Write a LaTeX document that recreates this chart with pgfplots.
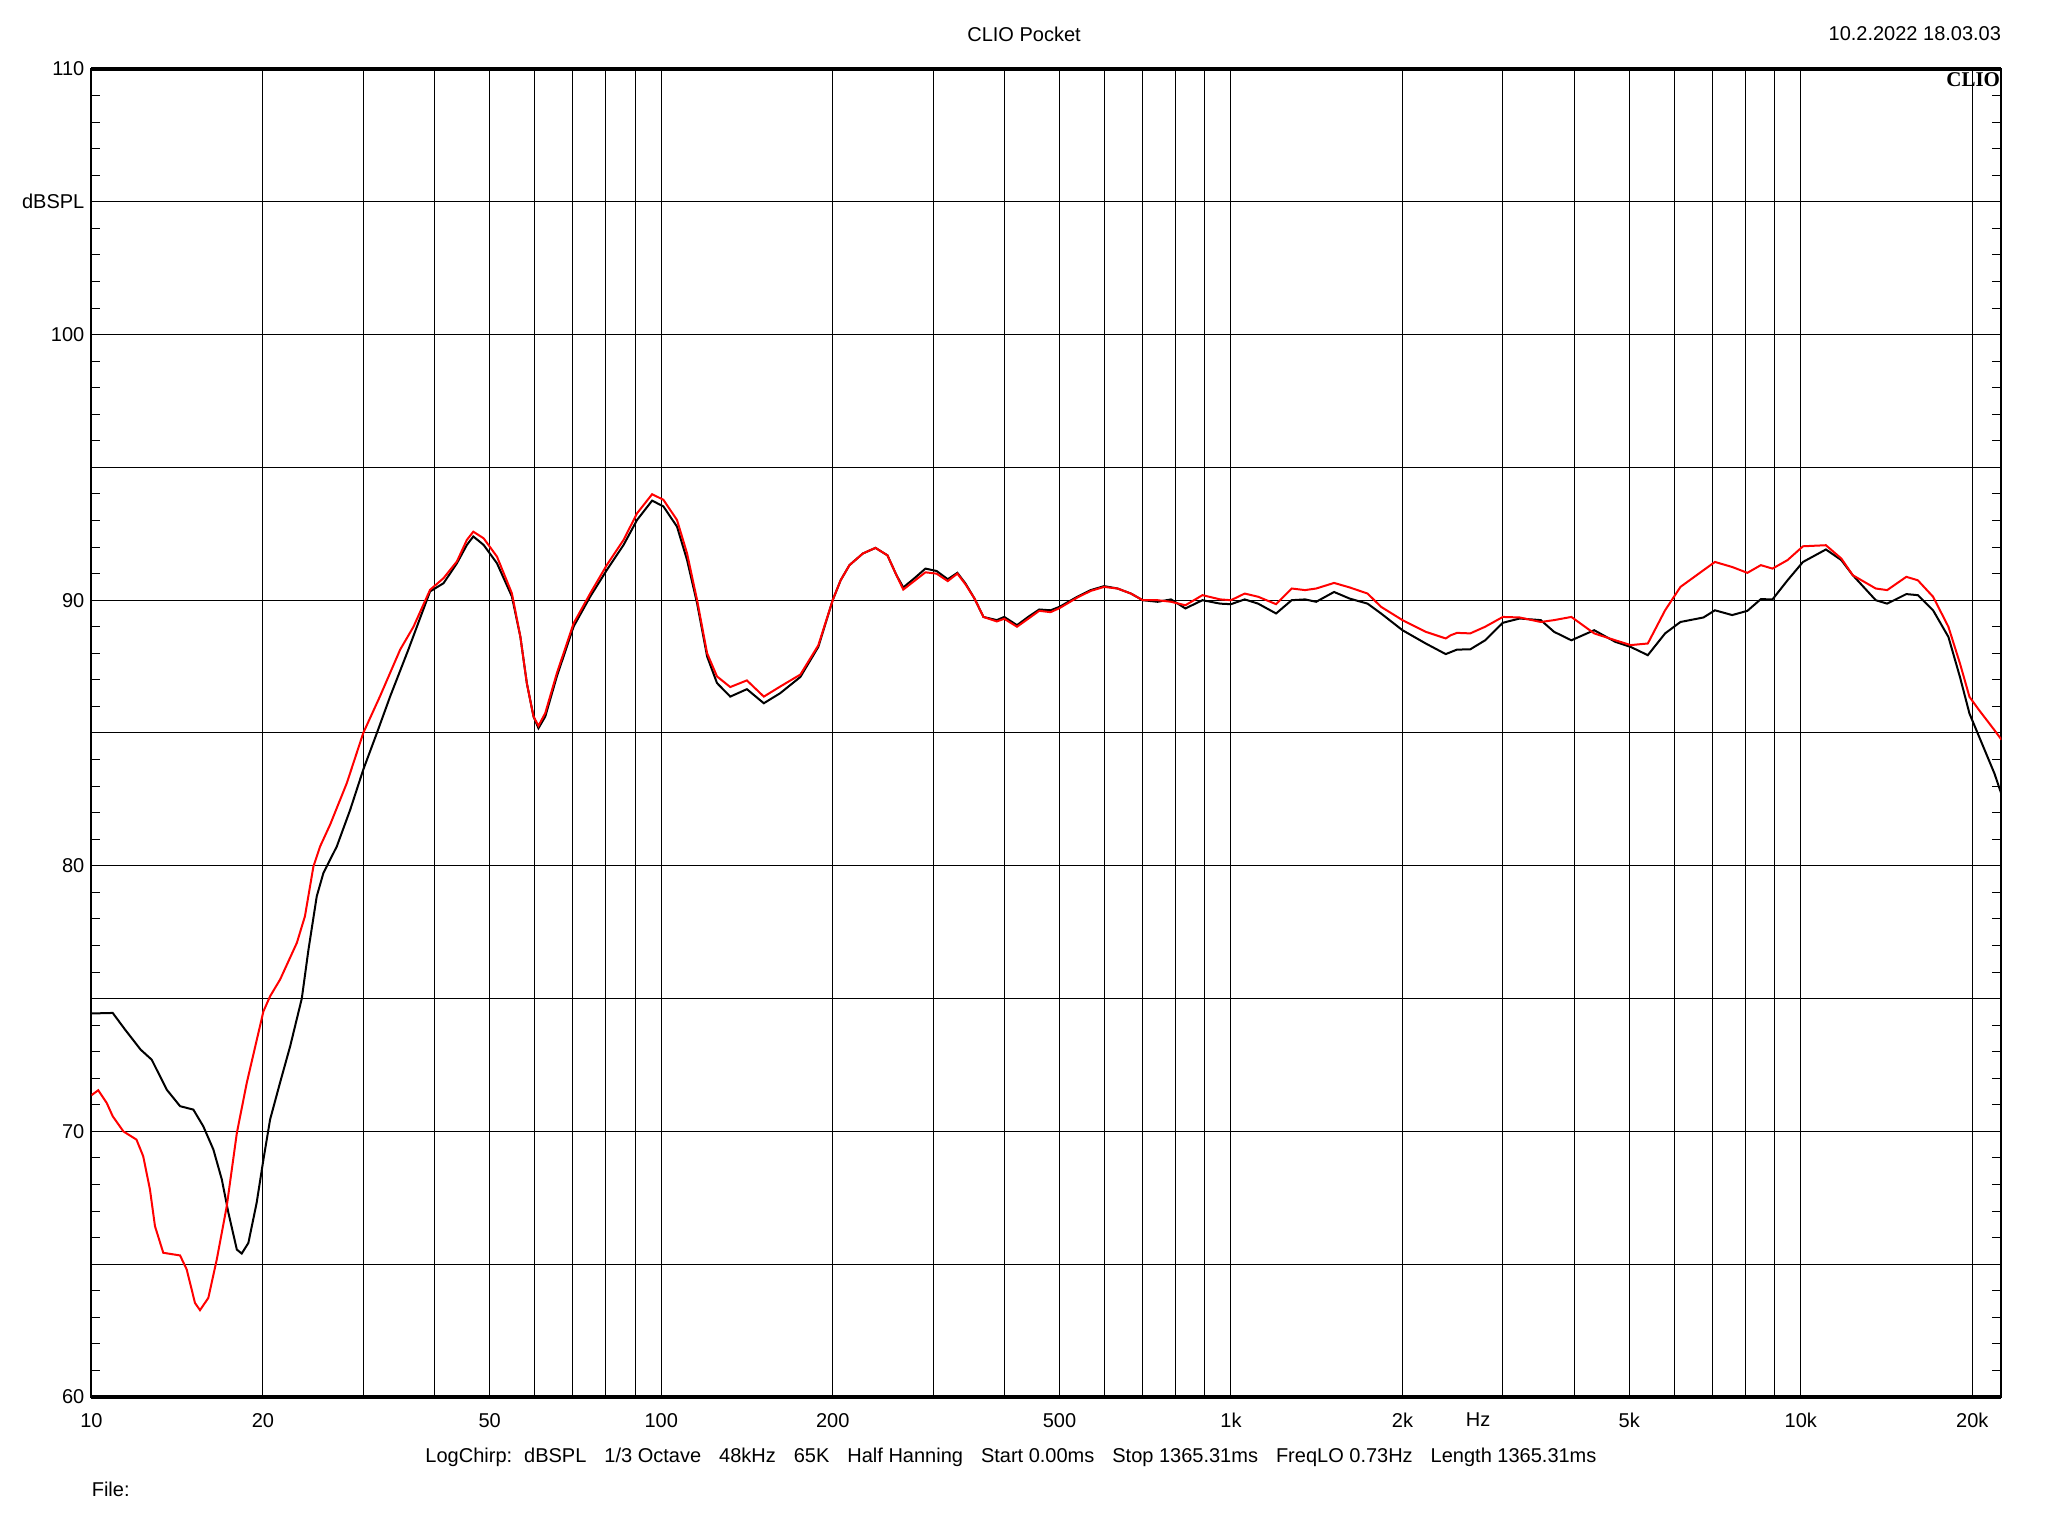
\documentclass[border=0pt]{standalone}
\usepackage{pgfplots}
\pgfplotsset{compat=1.18}
\usepackage{fontspec}
\setmainfont{Liberation Sans}
\newfontfamily\logofont{Liberation Serif}
\begin{document}
\fontsize{10}{12}\selectfont
\begin{tikzpicture}
\path[use as bounding box] (-45.7pt,-69.5pt) rectangle (978.3pt,698.5pt);
\begin{axis}[
  at={(0,0)}, anchor=south west,
  scale only axis, width=955pt, height=664pt,
  xmode=log, xmin=10, xmax=22500, ymin=60, ymax=110,
  xtick={10,20,30,40,50,60,70,80,90,100,200,300,400,500,600,700,800,900,1000,2000,3000,4000,5000,6000,7000,8000,9000,10000,20000},
  xticklabels={10,20,,,50,,,,,100,200,,,500,,,,,1k,2k,,,5k,,,,,10k,20k},
  extra x ticks={2714}, extra x tick labels={Hz},
  extra x tick style={grid=none, major tick length=0pt},
  ytick={60,65,70,75,80,85,90,95,100,105,110},
  yticklabels={60,,70,,80,,90,,100,dBSPL,110},
  minor y tick num=4,
  grid=major, major grid style={black, line width=0.5pt},
  major tick length=0pt, minor tick length=4.5pt,
  tick style={black, line width=0.5pt},
  axis line style={black, line width=1pt},
  tick label style={font=\fontsize{10}{12}\selectfont},
  xticklabel style={yshift=-4.5pt},
  clip=true,
]
\addplot[black, line width=1pt] coordinates {
(10,74.44)(10.9,74.46)(11.46,73.83)(12.2,73.08)(12.76,72.70)(13.56,71.57)(14.31,70.95)(15.1,70.82)(15.72,70.19)(16.37,69.32)(16.94,68.19)(17.4,66.93)(18.0,65.55)(18.36,65.40)(18.86,65.80)(19.5,67.31)(20.04,68.94)(20.59,70.45)(21.43,71.83)(22.33,73.21)(23.4,75.0)(24.04,76.84)(24.86,78.85)(25.54,79.73)(26.96,80.73)(28.46,82.11)(30,83.62)(31.7,85.0)(33.45,86.38)(36.0,88.14)(39.3,90.33)(41.5,90.64)(43.8,91.39)(45.6,92.08)(46.8,92.40)(48.8,92.08)(51.5,91.39)(54.7,90.14)(56.6,88.63)(58.1,86.88)(59.7,85.62)(60.9,85.18)(62.6,85.62)(65.6,87.13)(70.2,89.01)(75.1,90.14)(80.3,91.14)(85.9,92.08)(90.7,93.02)(96.4,93.75)(100.9,93.53)(106.6,92.77)(111,91.52)(115.6,89.89)(120.4,87.88)(125.3,86.88)(132.2,86.37)(141.4,86.65)(151.4,86.12)(161.8,86.50)(175.5,87.11)(188.7,88.24)(200,90.0)(206.5,90.75)(214,91.32)(226,91.76)(237.7,91.97)(249.5,91.69)(258.8,90.94)(266,90.48)(278,90.82)(290.9,91.19)(304.3,91.10)(318.4,90.79)(331,91.03)(342,90.63)(354.8,90.06)(367.8,89.37)(388.2,89.25)(400,89.37)(421.2,89.06)(440.6,89.37)(460.7,89.65)(482.4,89.62)(500,89.75)(537.5,90.13)(567.4,90.38)(598.9,90.53)(632.3,90.44)(667.5,90.25)(700,90.0)(743.6,89.94)(785,90.03)(831.8,89.69)(891.2,90.0)(957.3,89.87)(1000,89.85)(1057,90.03)(1116,89.87)(1200,89.5)(1278,90.0)(1349,90.03)(1411,89.94)(1517,90.31)(1616,90.06)(1737,89.87)(1834,89.5)(2000,88.87)(2197,88.37)(2382,87.97)(2493,88.14)(2630,88.15)(2793,88.49)(3000,89.15)(3210,89.31)(3497,89.25)(3690,88.81)(3958,88.49)(4340,88.87)(4727,88.43)(5030,88.24)(5390,87.93)(5780,88.75)(6150,89.18)(6750,89.35)(7070,89.62)(7580,89.44)(8060,89.60)(8510,90.04)(8920,90.03)(9480,90.75)(10090,91.44)(11070,91.91)(11780,91.51)(12340,90.94)(13540,90.0)(14180,89.87)(15320,90.23)(16050,90.19)(17070,89.62)(18160,88.62)(19030,87.11)(19780,85.73)(20560,84.86)(21870,83.48)(22500,82.7)
};
\addplot[red, line width=1pt] coordinates {
(10,71.36)(10.28,71.55)(10.64,71.07)(10.9,70.57)(11.38,70.0)(12.0,69.69)(12.33,69.06)(12.67,67.81)(12.93,66.43)(13.37,65.43)(14.31,65.33)(14.7,64.80)(15.2,63.54)(15.51,63.27)(16.04,63.73)(16.6,65.18)(17.28,67.18)(18.0,69.94)(18.74,71.83)(20.04,74.52)(20.59,75.09)(21.44,75.72)(22.94,77.1)(23.7,78.1)(24.53,79.98)(25.2,80.73)(26.24,81.55)(28.08,83.12)(30,85.0)(32.1,86.38)(34.83,88.14)(36.75,89.0)(39.3,90.39)(41.5,90.83)(43.8,91.46)(45.6,92.27)(46.8,92.58)(48.8,92.33)(51.5,91.64)(54.7,90.26)(56.6,88.63)(58.1,86.88)(59.7,85.62)(60.9,85.27)(62.6,85.75)(65.6,87.25)(70.2,89.13)(75.1,90.26)(80.3,91.33)(85.9,92.27)(90.7,93.27)(96.4,93.99)(100.9,93.78)(106.6,93.02)(111,91.77)(115.6,90.01)(120.4,88.0)(125.3,87.13)(132.2,86.73)(141.4,86.98)(151.4,86.37)(161.8,86.75)(175.5,87.2)(188.7,88.3)(200,90.0)(206.5,90.75)(214,91.32)(226,91.76)(237.7,91.97)(249.5,91.69)(258.8,90.94)(266,90.40)(278,90.72)(290.9,91.05)(304.3,91.0)(318.4,90.72)(331,91.0)(342,90.6)(354.8,90.06)(367.8,89.37)(388.2,89.2)(400,89.3)(421.2,89.0)(440.6,89.3)(460.7,89.6)(482.4,89.55)(500,89.7)(537.5,90.1)(567.4,90.35)(598.9,90.5)(632.3,90.44)(667.5,90.25)(700,90.0)(743.6,90.0)(785,89.94)(831.8,89.81)(891.2,90.19)(957.3,90.03)(1000,90.0)(1057,90.25)(1116,90.13)(1200,89.85)(1278,90.44)(1349,90.38)(1411,90.44)(1517,90.65)(1616,90.48)(1737,90.25)(1834,89.75)(2000,89.25)(2197,88.81)(2382,88.56)(2430,88.68)(2493,88.77)(2630,88.75)(2793,89.0)(3000,89.37)(3210,89.35)(3497,89.18)(3690,89.25)(3958,89.37)(4340,88.75)(4727,88.49)(5030,88.31)(5390,88.37)(5780,89.62)(6150,90.5)(6750,91.13)(7070,91.44)(7580,91.25)(8060,91.03)(8510,91.32)(8920,91.19)(9480,91.51)(10090,92.03)(11070,92.07)(11780,91.57)(12340,90.94)(13540,90.44)(14180,90.38)(15320,90.88)(16050,90.75)(17070,90.13)(18160,89.0)(19030,87.62)(19780,86.36)(20560,85.86)(21870,85.11)(22500,84.75)
};
\end{axis}
\draw[black, line width=2.2pt] (0,664pt) -- (955pt,664pt);
\draw[black, line width=2.2pt] (0,0) -- (955pt,0);
\node[inner sep=0pt] at (466.3pt,681.5pt) {CLIO Pocket};
\node[inner sep=0pt, anchor=east] at (955pt,681.5pt) {10.2.2022 18.03.03};
\node[inner sep=0pt, anchor=north east] at (954.5pt,662.3pt) {\fontsize{10.5}{12}\selectfont\logofont\bfseries CLIO};
\node[inner sep=0pt] at (459.8pt,-30pt) {LogChirp:\hspace{6pt}dBSPL\hspace{9pt}1/3 Octave\hspace{9pt}48kHz\hspace{9pt}65K\hspace{9pt}Half Hanning\hspace{9pt}Start 0.00ms\hspace{9pt}Stop 1365.31ms\hspace{9pt}FreqLO 0.73Hz\hspace{9pt}Length 1365.31ms};
\node[inner sep=0pt, anchor=west] at (0pt,-46pt) {File:};
\end{tikzpicture}
\end{document}
